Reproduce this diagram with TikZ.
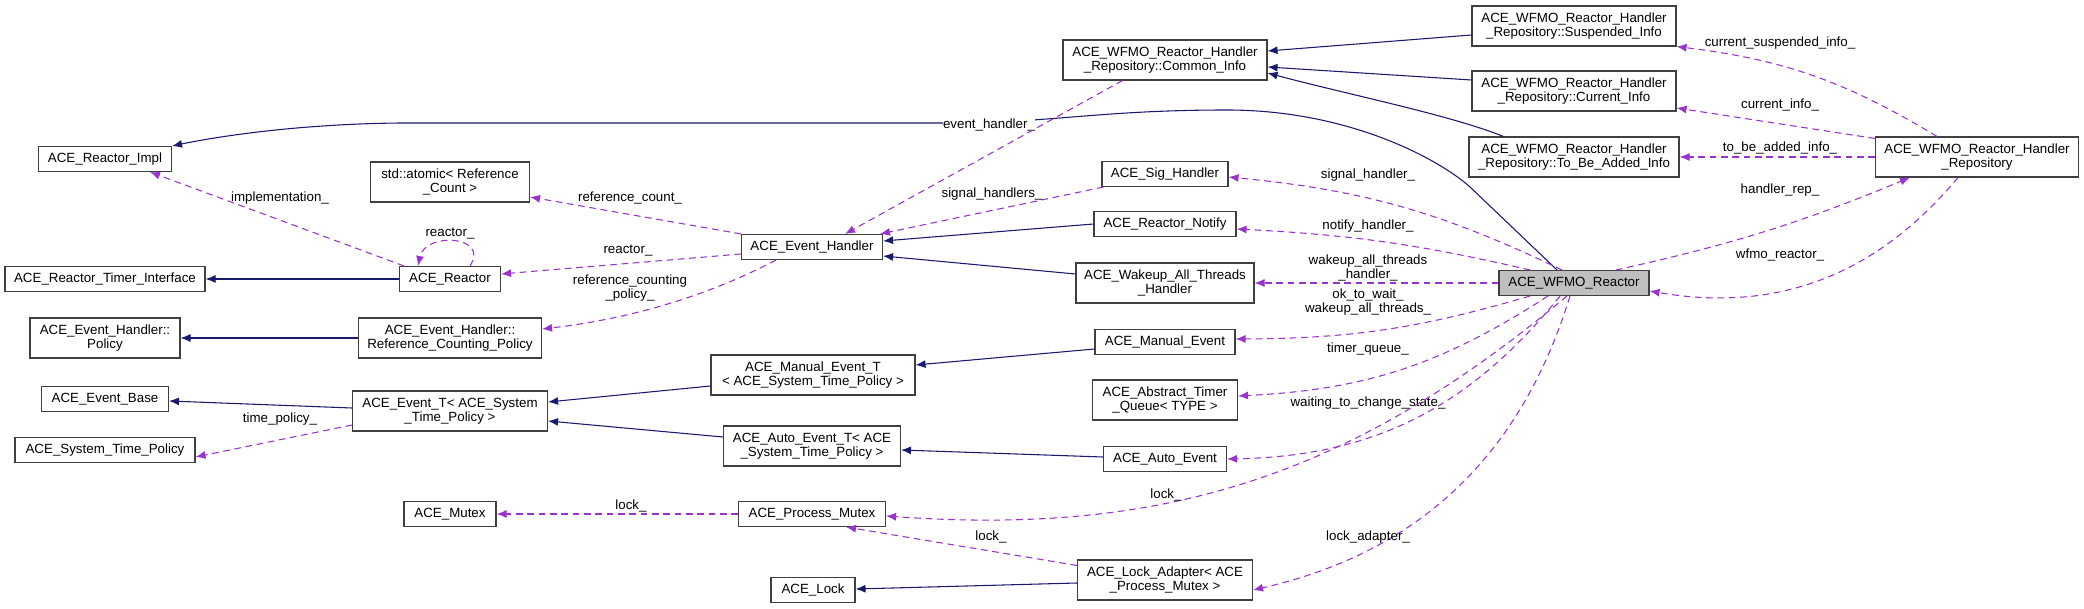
\documentclass[tikz,border=0pt]{standalone}
\usepackage{fontspec}
\setmainfont{Liberation Sans}
\usetikzlibrary{arrows.meta,calc}

\tikzset{
  cls/.style={draw=black!75, fill=white, line width=0.8pt, inner sep=2pt,
    align=center, minimum height=18.75pt, font=\fontsize{10}{10.5}\selectfont},
  two/.style={minimum height=30pt},
  wd/.style={minimum width=#1*0.75pt},
  cur/.style={fill=black!25},
  inh/.style={draw={rgb,255:red,25;green,25;blue,112}, line width=0.8pt,
    -{Latex[length=7.5pt,width=6pt]}},
  use/.style={draw={rgb,255:red,154;green,50;blue,205}, dashed, line width=0.8pt,
    dash pattern=on 5pt off 3.5pt, -{Latex[length=7.5pt,width=6pt]}},
  lbl/.style={font=\fontsize{10}{10.5}\selectfont, align=center, inner sep=0pt}
}

\begin{document}
\begin{tikzpicture}[x=0.75pt, y=-0.75pt]
    \useasboundingbox (0,0) rectangle (2084,609);

    % left column
    \node[cls, wd=133] (impl) at (105,159) {ACE\_Reactor\_Impl};
    \node[cls, wd=200] (timer) at (105,279) {ACE\_Reactor\_Timer\_Interface};
    \node[cls, two, wd=150] (policy) at (105,338) {ACE\_Event\_Handler::\\Policy};
    \node[cls, wd=127] (evbase) at (105,399) {ACE\_Event\_Base};
    \node[cls, wd=180] (stp) at (105,450) {ACE\_System\_Time\_Policy};

    % second column
    \node[cls, two, wd=159] (atomic) at (450,182) {std::atomic< Reference\\\_Count >};
    \node[cls, wd=101] (reactor) at (450,279) {ACE\_Reactor};
    \node[cls, two, wd=183] (rcpolicy) at (450,338) {ACE\_Event\_Handler::\\Reference\_Counting\_Policy};
    \node[cls, two, wd=195] (evt) at (450,411) {ACE\_Event\_T< ACE\_System\\\_Time\_Policy >};
    \node[cls, wd=92] (mutex) at (450,514) {ACE\_Mutex};

    % third column
    \node[cls, wd=141] (handler) at (812,247) {ACE\_Event\_Handler};
    \node[cls, two, wd=204] (mevt) at (813,375) {ACE\_Manual\_Event\_T\\< ACE\_System\_Time\_Policy >};
    \node[cls, two, wd=177] (aevt) at (812,446) {ACE\_Auto\_Event\_T< ACE\\\_System\_Time\_Policy >};
    \node[cls, wd=147] (pmutex) at (812,514) {ACE\_Process\_Mutex};
    \node[cls, wd=84] (lock) at (813,590) {ACE\_Lock};

    % fourth column
    \node[cls, two, wd=204] (common) at (1165,60) {ACE\_WFMO\_Reactor\_Handler\\\_Repository::Common\_Info};
    \node[cls, wd=126] (sig) at (1165,174) {ACE\_Sig\_Handler};
    \node[cls, wd=142] (notify) at (1165,224) {ACE\_Reactor\_Notify};
    \node[cls, two, wd=178] (wakeup) at (1165,283) {ACE\_Wakeup\_All\_Threads\\\_Handler};
    \node[cls, wd=140] (manual) at (1165,342) {ACE\_Manual\_Event};
    \node[cls, two, wd=145] (timerq) at (1165,400) {ACE\_Abstract\_Timer\\\_Queue< TYPE >};
    \node[cls, wd=123] (auto) at (1165,459) {ACE\_Auto\_Event};
    \node[cls, two, wd=175] (adapter) at (1165,580) {ACE\_Lock\_Adapter< ACE\\\_Process\_Mutex >};

    % right part
    \node[cls, two, wd=204] (susp) at (1574,26) {ACE\_WFMO\_Reactor\_Handler\\\_Repository::Suspended\_Info};
    \node[cls, two, wd=204] (curinfo) at (1574,91) {ACE\_WFMO\_Reactor\_Handler\\\_Repository::Current\_Info};
    \node[cls, two, wd=210] (added) at (1574,157) {ACE\_WFMO\_Reactor\_Handler\\\_Repository::To\_Be\_Added\_Info};
    \node[cls, two, wd=203] (repo) at (1977,157) {ACE\_WFMO\_Reactor\_Handler\\\_Repository};
    \node[cls, cur, wd=150] (wfmo) at (1574,283) {ACE\_WFMO\_Reactor};

    % inheritance
    \draw[inh] ($(wfmo.north)+(-17,0)$) -- (1470,187)
      .. controls (1440,160) and (1350,110) .. (1227,110)
      .. controls (1100,110) and (1050,123) .. (950,123) -- (400,123)
      .. controls (300,124) and (220,136) .. (impl.north east);
    \draw[inh] ($(susp.west)+(0,9)$) -- ($(common.east)+(0,-9)$);
    \draw[inh] ($(curinfo.west)+(0,-11)$) -- ($(common.east)+(0,7)$);
    \draw[inh] ($(added.north west)+(35,0)$) .. controls (1450,115) and (1350,95) .. ($(common.east)+(0,13)$);
    \draw[inh] (notify.west) -- ($(handler.east)+(0,-6)$);
    \draw[inh] ($(wakeup.west)+(0,-9)$) -- ($(handler.east)+(0,9)$);
    \draw[inh] (reactor.west) -- (timer.east);
    \draw[inh] (rcpolicy.west) -- (policy.east);
    \draw[inh] ($(evt.west)+(0,-3)$) -- ($(evbase.east)+(0,2)$);
    \draw[inh] ($(mevt.west)+(0,11)$) -- ($(evt.east)+(0,-9)$);
    \draw[inh] ($(aevt.west)+(0,-9)$) -- ($(evt.east)+(0,10)$);
    \draw[inh] ($(manual.west)+(0,7)$) -- ($(mevt.east)+(0,-10)$);
    \draw[inh] ($(auto.west)+(0,-2)$) -- ($(aevt.east)+(0,4)$);
    \draw[inh] ($(adapter.west)+(0,3)$) -- ($(lock.east)+(0,-1)$);

    % members, left side
    \draw[use] ($(reactor.north west)+(5,0)$) -- ($(impl.south)+(45,0)$);
    \node[lbl] (l1) at (280,198) {implementation\_};
    \draw[use] ($(reactor.north)+(20,0)$) .. controls (490,235) and (425,232) .. ($(reactor.north)+(-32,0)$);
    \node[lbl] (l2) at (450,234) {reactor\_};
    \draw[use] (handler.north west) -- ($(atomic.east)+(0,15)$);
    \node[lbl] (l3) at (630,198) {reference\_count\_};
    \draw[use] ($(handler.west)+(0,7)$) -- ($(reactor.east)+(0,-5)$);
    \node[lbl] (l4) at (628,251) {reactor\_};
    \draw[use] ($(handler.south west)+(35,0)$) .. controls (700,300) and (620,320) .. ($(rcpolicy.east)+(0,-9)$);
    \node[lbl] (l5) at (630,288) {reference\_counting\\\_policy\_};
    \draw[use] ($(evt.west)+(0,14)$) -- ($(stp.east)+(0,7)$);
    \node[lbl] (l6) at (280,419) {time\_policy\_};
    \draw[use] (pmutex.west) -- (mutex.east);
    \node[lbl] (l7) at (631,506) {lock\_};
    \draw[use] ($(adapter.north west)+(0,6)$) -- ($(pmutex.south east)+(-40,0)$);
    \node[lbl] (l8) at (991,537) {lock\_};
    \draw[use] ($(common.south west)+(60,0)$) -- ($(handler.north)+(33,0)$);
    \node[lbl, fill=white] (l9) at (989,125) {event\_handler\_};
    \draw[use] ($(sig.south west)+(2,0)$) -- ($(handler.north east)+(-3,0)$);
    \node[lbl] (l10) at (992,194) {signal\_handlers\_};

    % members of ACE_WFMO_Reactor
    \draw[use] ($(wfmo.north)+(-12,0)$) to[bend right=10] ($(sig.east)+(0,3)$);
    \node[lbl] (l11) at (1368,175) {signal\_handler\_};
    \draw[use] ($(wfmo.north)+(-44,0)$) to[bend right=5] ($(notify.east)+(0,5)$);
    \node[lbl] (l12) at (1368,226) {notify\_handler\_};
    \draw[use] (wfmo.west) -- (wakeup.east);
    \node[lbl] (l13) at (1368,268) {wakeup\_all\_threads\\\_handler\_};
    \draw[use] ($(wfmo.south)+(-44,0)$) to[bend left=8] ($(manual.east)+(0,-3)$);
    \node[lbl] (l14) at (1368,302) {ok\_to\_wait\_\\wakeup\_all\_threads\_};
    \draw[use] ($(wfmo.south)+(-26,0)$) to[bend left=15] ($(timerq.east)+(0,-4)$);
    \node[lbl] (l15) at (1368,349) {timer\_queue\_};
    \draw[use] ($(wfmo.south)+(-14,0)$) to[bend left=25] (auto.east);
    \node[lbl] (l16) at (1368,403) {waiting\_to\_change\_state\_};
    \draw[use] ($(wfmo.south)+(-7,0)$) to[bend left=22] ($(pmutex.east)+(0,2)$);
    \node[lbl] (l17) at (1166,495) {lock\_};
    \draw[use] ($(wfmo.south)+(-4,0)$) to[bend left=30] ($(adapter.east)+(0,10)$);
    \node[lbl] (l18) at (1368,537) {lock\_adapter\_};

    % repository
    \draw[use] ($(wfmo.north)+(42,0)$) to[bend right=5] ($(repo.south west)+(35,0)$);
    \node[lbl] (l19) at (1780,190) {handler\_rep\_};
    \draw[use] ($(repo.south)+(-19,0)$) to[bend left=30] ($(wfmo.east)+(0,8)$);
    \node[lbl] (l20) at (1780,255) {wfmo\_reactor\_};
    \draw[use] ($(repo.north)+(-40,0)$) to[bend right=12] (susp.south east);
    \node[lbl] (l21) at (1780,43) {current\_suspended\_info\_};
    \draw[use] ($(repo.north west)+(0,2)$) -- ($(curinfo.east)+(0,17)$);
    \node[lbl] (l22) at (1780,105) {current\_info\_};
    \draw[use] (repo.west) -- (added.east);
    \node[lbl] (l23) at (1780,148) {to\_be\_added\_info\_};
\end{tikzpicture}
\end{document}
